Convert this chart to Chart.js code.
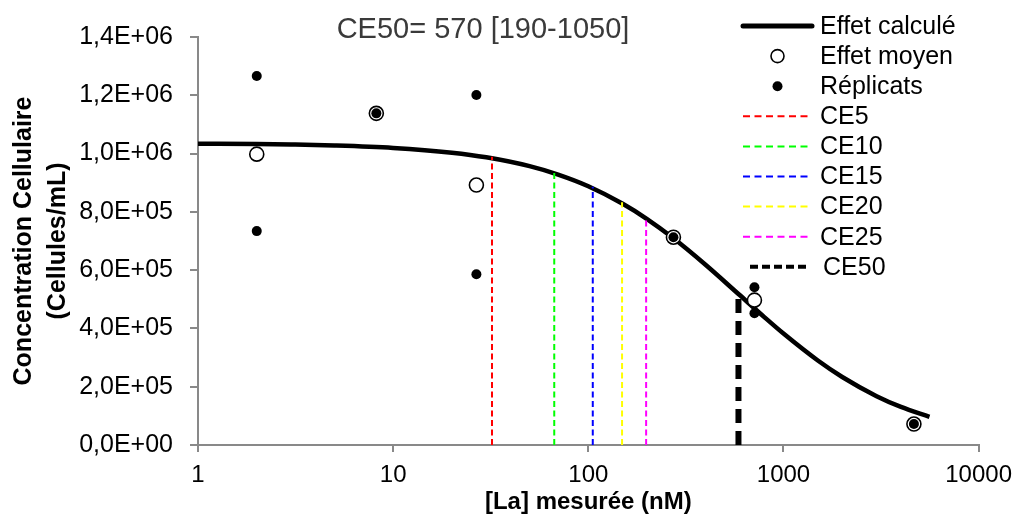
<!DOCTYPE html>
<html>
<head>
<meta charset="utf-8">
<script src="https://cdn.jsdelivr.net/npm/chart.js@4.4.1/dist/chart.umd.min.js"></script>
<style>
  html, body { margin: 0; padding: 0; background: #fff; }
  #wrap { width: 1021px; height: 515px; }
</style>
</head>
<body>
<div id="wrap"><canvas id="myChart" width="1021" height="515"></canvas></div>
<script>
// ============================= DATA
let curveX = [1, 2, 3, 5, 10, 20, 30, 50, 70, 100, 150, 200, 270, 400, 588, 800, 1000, 1500, 2000, 3000, 4000, 5600];
let curveY = [1034000, 1032700, 1031000, 1027700, 1019400, 1003000, 987100, 956700, 927800, 887800, 827700, 775400,
              711700, 617500, 518000, 438100, 382300, 289800, 233200, 167500, 130600, 96400];

let meanX = [2, 8.2, 26.7, 273, 710, 4660];
let meanY = [998000, 1138000, 892000, 713000, 497000, 72000];

let repX = [2, 2, 8.2, 26.7, 26.7, 273, 710, 710, 4660];
let repY = [1266000, 734000, 1138000, 1201000, 586000, 713000, 541000, 452000, 72000];

let ceLabels = ['CE5', 'CE10', 'CE15', 'CE20', 'CE25', 'CE50'];
let ceX = [32.1, 66.9, 105.4, 148.9, 197.8, 588];
let ceY = [989000, 938000, 886000, 833000, 781000, 515000];

let xTicks = [1, 10, 100, 1000, 10000];
let titleText = 'CE50= 570 [190-1050]';

// ============================= STYLES
let ceColors = ['#ff0000', '#00ff00', '#0000ff', '#ffff00', '#ff00ff', '#000000'];
let axisGrey = '#898989';
Chart.defaults.font.family = "'Liberation Sans', Arial, sans-serif";
Chart.defaults.color = '#000';

function pts(xs, ys) {
    return xs.map((x, i) => ({ x: x, y: ys[i] }));
}

// 1,4E+06 style labels
function sciLabel(v) {
    v = Math.round(v);
    if (v === 0) return '0,0E+00';
    let e = Math.floor(Math.log10(v) + 1e-9);
    let m = v / Math.pow(10, e);
    return m.toFixed(1).replace('.', ',') + 'E+' + String(e).padStart(2, '0');
}

let datasets = [
    {
        label: 'Effet calculé',
        data: pts(curveX, curveY),
        showLine: true,
        borderColor: '#000',
        borderWidth: 4.5,
        pointRadius: 0,
        cubicInterpolationMode: 'monotone',
        order: 5,
        legendKind: 'line'
    },
    {
        label: 'Effet moyen',
        data: pts(meanX, meanY),
        showLine: false,
        pointRadius: 7,
        pointBackgroundColor: '#fff',
        pointBorderColor: '#000',
        pointBorderWidth: 1.6,
        order: 1,
        legendKind: 'open'
    },
    {
        label: 'Réplicats',
        data: pts(repX, repY),
        showLine: false,
        pointRadius: 5,
        pointBackgroundColor: '#000',
        pointBorderColor: '#000',
        pointBorderWidth: 0,
        order: 0,
        legendKind: 'dot'
    }
];

ceLabels.forEach((lab, i) => {
    let big = lab === 'CE50';
    datasets.push({
        label: lab,
        data: [{ x: ceX[i], y: 0 }, { x: ceX[i], y: ceY[i] }],
        showLine: true,
        borderColor: ceColors[i],
        borderWidth: big ? 6 : 2,
        borderDash: big ? [14, 8] : [6, 3.5],
        borderCapStyle: 'butt',
        pointRadius: 0,
        order: big ? 2 : 3,
        legendKind: 'dash'
    });
});

// title + legend drawn over the plot, like the original
let overlayPlugin = {
    id: 'overlay',
    afterDraw(chart) {
        let ctx = chart.ctx;
        ctx.save();
        ctx.fillStyle = '#3a3a3a';
        ctx.font = "29px 'Liberation Sans', Arial, sans-serif";
        ctx.textAlign = 'center';
        ctx.textBaseline = 'middle';
        ctx.fillText(titleText, 483, 30);

        let x0 = 743, x1 = 812, xm = 777.5, tx = 820;
        ctx.font = "25px 'Liberation Sans', Arial, sans-serif";
        ctx.textAlign = 'left';
        chart.data.datasets.forEach((ds, i) => {
            let y = 26 + i * 30.1;
            ctx.setLineDash([]);
            if (ds.legendKind === 'line') {
                ctx.strokeStyle = ds.borderColor;
                ctx.lineWidth = 5;
                ctx.lineCap = 'round';
                ctx.beginPath(); ctx.moveTo(x0, y); ctx.lineTo(x1, y); ctx.stroke();
            } else if (ds.legendKind === 'open') {
                ctx.fillStyle = '#fff';
                ctx.strokeStyle = '#000';
                ctx.lineWidth = 1.6;
                ctx.beginPath(); ctx.arc(xm, y, 6.5, 0, Math.PI * 2); ctx.fill(); ctx.stroke();
            } else if (ds.legendKind === 'dot') {
                ctx.fillStyle = '#000';
                ctx.beginPath(); ctx.arc(xm, y, 5, 0, Math.PI * 2); ctx.fill();
            } else {
                let big = ds.borderWidth > 4;
                ctx.strokeStyle = ds.borderColor;
                ctx.lineWidth = big ? 4 : 2;
                ctx.lineCap = 'butt';
                ctx.setLineDash(big ? [8, 4] : [7, 4.5]);
                ctx.beginPath(); ctx.moveTo(big ? 750 : x0, y); ctx.lineTo(big ? 808 : x1, y); ctx.stroke();
            }
            ctx.setLineDash([]);
            ctx.fillStyle = '#000';
            ctx.fillText(ds.label, ds.label === 'CE50' ? 823 : tx, y + 1);
        });
        ctx.restore();
    }
};

let ctx = document.querySelector('#myChart').getContext('2d');
let myChart = new Chart(ctx, {
    type: 'scatter',
    data: { datasets: datasets },
    options: {
        responsive: false,
        animation: false,
        events: [],
        layout: { padding: { left: 0, top: 37, right: 42, bottom: 0 } },
        plugins: {
            legend: { display: false },
            tooltip: { enabled: false },
            title: { display: false }
        },
        scales: {
            x: {
                type: 'logarithmic',
                min: 1,
                max: 10000,
                afterBuildTicks: (axis) => { axis.ticks = xTicks.map(v => ({ value: v })); },
                afterFit: (axis) => { axis.height = 70; },
                border: { color: axisGrey, width: 2 },
                grid: { drawOnChartArea: false, drawTicks: true, tickLength: 7, color: axisGrey, lineWidth: 2 },
                ticks: {
                    autoSkip: false,
                    maxRotation: 0,
                    padding: 9,
                    font: { size: 24 },
                    color: '#000',
                    callback: (v) => String(v)
                },
                title: {
                    display: true,
                    text: '[La] mesurée (nM)',
                    font: { size: 24, weight: 'bold', lineHeight: 1 },
                    padding: { top: 0, bottom: 1 },
                    color: '#000'
                }
            },
            y: {
                min: 0,
                max: 1400000,
                afterFit: (axis) => { axis.width = 198; },
                border: { color: axisGrey, width: 2 },
                grid: { drawOnChartArea: false, drawTicks: true, tickLength: 8, color: axisGrey, lineWidth: 2 },
                ticks: {
                    stepSize: 200000,
                    padding: 17,
                    font: { size: 25 },
                    color: '#000',
                    callback: (v) => sciLabel(v)
                },
                title: {
                    display: true,
                    text: ['Concentration Cellulaire', '(Cellules/mL)'],
                    font: { size: 25, weight: 'bold', lineHeight: 1.36 },
                    padding: { top: 7, bottom: 0 },
                    color: '#000'
                }
            }
        }
    },
    plugins: [overlayPlugin]
});
</script>
</body>
</html>
